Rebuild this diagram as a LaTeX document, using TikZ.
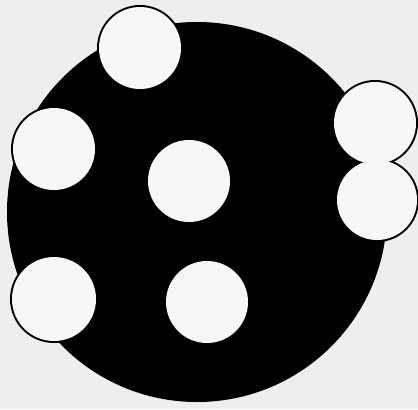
\documentclass[tikz,border=0pt]{standalone}
\usepackage{tikz}

\definecolor{paper}{RGB}{238,238,238}

\begin{document}
\begin{tikzpicture}[x=0.02cm,y=-0.02cm]

% Paper
\fill[paper] (0,0) rectangle (418,409);
\useasboundingbox (0,0) rectangle (418,409);

% Disc
\fill[black] (197,212) circle (190);

% Holes: outlines first, then the white insides over them
\foreach \x/\y/\r in {140/48/41,54/149/41,189/181/41,375/123/41,377/200/40,54/299/42,207/302/41}
{
\draw[line width=0.08cm] (\x,\y) circle (\r);
}
\foreach \x/\y/\r in {140/48/41,54/149/41,189/181/41,375/123/41,377/200/40,54/299/42,207/302/41}
{
\fill[paper!50!white] (\x,\y) circle (\r);
}

\end{tikzpicture}
\end{document}
